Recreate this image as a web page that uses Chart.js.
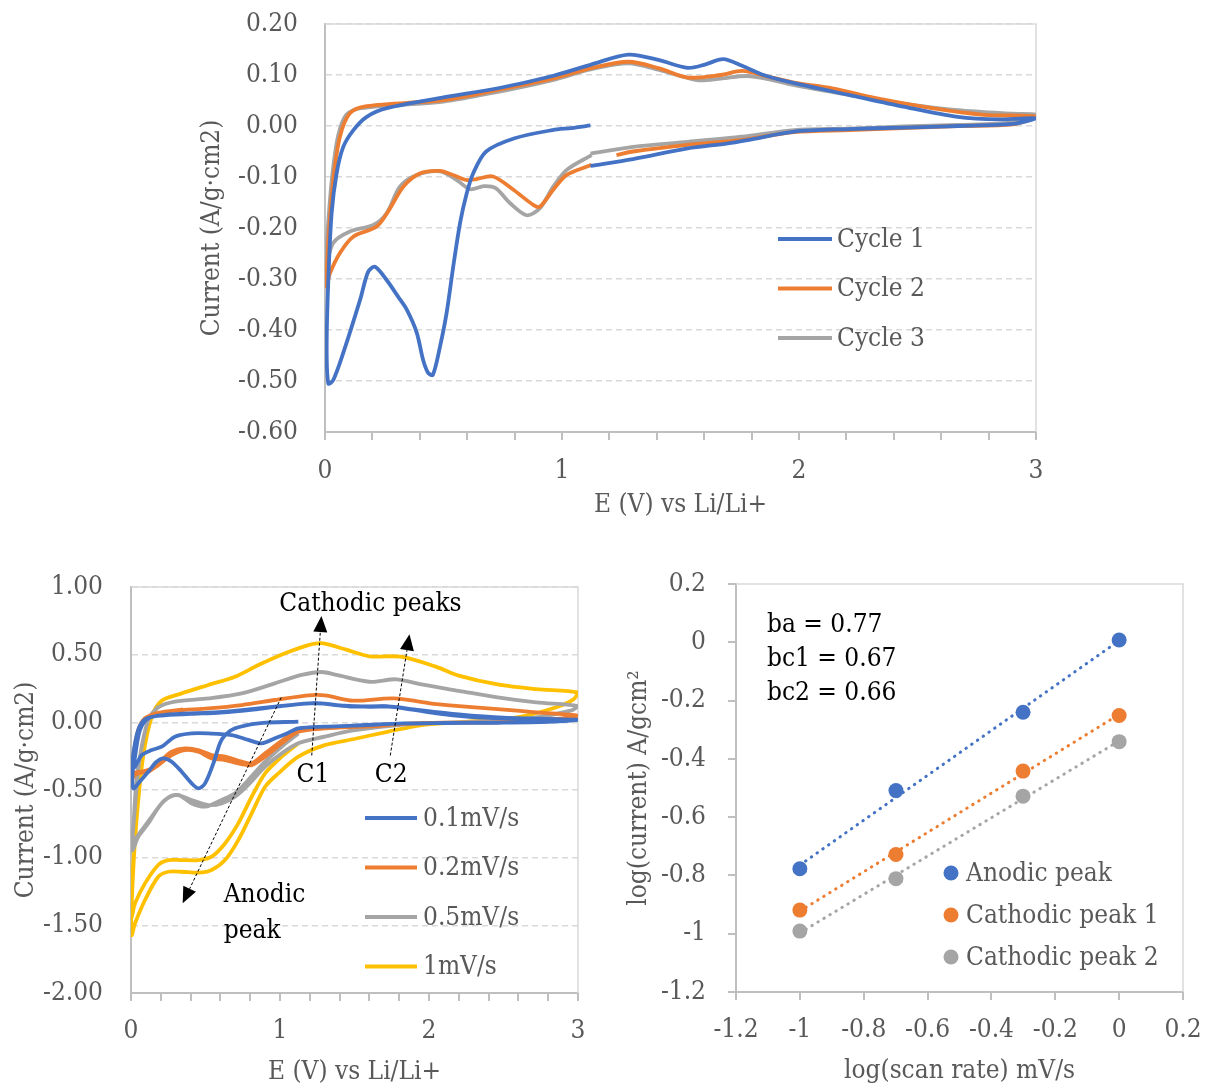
<!DOCTYPE html>
<html>
<head>
<meta charset="utf-8">
<script src="https://cdn.jsdelivr.net/npm/chart.js@4.4.0/dist/chart.umd.min.js"></script>
<style>
  body { margin: 0; background: #fff; width: 1206px; height: 1088px; position: relative; overflow: hidden; }
  canvas { position: absolute; }
  #cycles { left: 0; top: 0; }
  #rates { left: 0; top: 560px; }
  #power { left: 600px; top: 560px; }
</style>
</head>
<body>
<canvas id="cycles" width="1206" height="540"></canvas>
<canvas id="rates" width="600" height="528"></canvas>
<canvas id="power" width="606" height="528"></canvas>
<script>
// ---- top: first three cycles, [E (V), current (A/g·cm2)] along the sweep
const cycleLabels = ['Cycle 1', 'Cycle 2', 'Cycle 3'];
const cycle1 = [
  [1.12,0.001],[1.04,-0.004],[0.96,-0.008],[0.80,-0.024],[0.68,-0.05],[0.625,-0.093],[0.598,-0.132],
  [0.57,-0.19],[0.541,-0.276],[0.513,-0.367],[0.485,-0.433],[0.455,-0.488],[0.435,-0.484],[0.414,-0.459],
  [0.387,-0.405],[0.345,-0.36],[0.309,-0.335],[0.26,-0.302],[0.211,-0.276],[0.182,-0.286],[0.148,-0.341],
  [0.077,-0.445],[0.035,-0.498],[0.014,-0.505],[0.007,-0.433],[0.014,-0.302],[0.028,-0.171],[0.049,-0.093],
  [0.077,-0.041],[0.12,-0.008],[0.176,0.018],[0.26,0.035],[0.50,0.056],[0.73,0.074],[0.96,0.098],
  [1.12,0.12],[1.28,0.14],[1.41,0.129],[1.53,0.114],[1.60,0.12],[1.68,0.131],[1.76,0.118],[1.85,0.10],
  [1.98,0.084],[2.21,0.061],[2.44,0.038],[2.67,0.018],[2.85,0.013],[3.0,0.015],
  [2.90,0.004],[2.67,0.0],[2.44,-0.003],[2.21,-0.006],[1.98,-0.011],[1.80,-0.026],[1.70,-0.034],
  [1.53,-0.044],[1.30,-0.065],[1.12,-0.078]
];
const cycle2 = [
  [1.125,-0.076],[1.02,-0.096],[0.963,-0.125],[0.907,-0.158],[0.88,-0.155],[0.795,-0.125],[0.709,-0.099],
  [0.64,-0.104],[0.598,-0.106],[0.54,-0.096],[0.485,-0.088],[0.40,-0.093],[0.33,-0.119],[0.27,-0.165],
  [0.218,-0.197],[0.119,-0.217],[0.063,-0.249],[0.02,-0.29],[0.007,-0.315],[0.015,-0.22],[0.035,-0.106],
  [0.063,-0.021],[0.105,0.025],[0.176,0.039],[0.50,0.051],[0.73,0.071],[0.96,0.093],[1.12,0.113],
  [1.28,0.126],[1.41,0.113],[1.53,0.095],[1.67,0.10],[1.76,0.108],[1.87,0.097],[1.98,0.085],[2.14,0.074],
  [2.33,0.054],[2.56,0.035],[2.78,0.022],[3.0,0.018],
  [2.90,0.003],[2.67,0.0],[2.21,-0.008],[1.98,-0.012],[1.76,-0.027],[1.53,-0.037],[1.30,-0.05],[1.23,-0.057]
];
const cycle3 = [
  [1.125,-0.057],[1.02,-0.086],[0.963,-0.119],[0.907,-0.161],[0.851,-0.175],[0.78,-0.151],[0.72,-0.122],
  [0.67,-0.118],[0.612,-0.124],[0.556,-0.106],[0.485,-0.089],[0.387,-0.096],[0.316,-0.119],[0.26,-0.171],
  [0.204,-0.194],[0.105,-0.207],[0.035,-0.229],[0.004,-0.272],[0.012,-0.2],[0.03,-0.1],[0.055,-0.02],
  [0.09,0.022],[0.15,0.035],[0.50,0.048],[0.73,0.067],[0.96,0.09],[1.12,0.111],[1.28,0.123],[1.41,0.11],
  [1.57,0.09],[1.67,0.093],[1.78,0.098],[1.87,0.092],[1.98,0.08],[2.21,0.061],[2.44,0.044],[2.67,0.031],
  [2.90,0.024],[3.0,0.022],
  [2.90,0.007],[2.67,0.002],[2.44,-0.001],[2.21,-0.005],[1.98,-0.008],[1.76,-0.021],[1.53,-0.031],
  [1.30,-0.041],[1.12,-0.054]
];

// ---- bottom left: scan rates
const rateLabels = ['0.1mV/s', '0.2mV/s', '0.5mV/s', '1mV/s'];
const rate01 = [
  [1.123,0.005],[0.855,-0.007],[0.698,-0.044],[0.631,-0.094],[0.597,-0.155],[0.553,-0.303],[0.497,-0.451],
  [0.452,-0.488],[0.407,-0.451],[0.34,-0.365],[0.273,-0.291],[0.217,-0.266],[0.172,-0.291],[0.116,-0.365],
  [0.049,-0.451],[0.016,-0.488],[0.01,-0.38],[0.027,-0.254],[0.06,-0.057],[0.116,0.03],[0.228,0.055],
  [0.519,0.071],[0.743,0.091],[0.966,0.116],[1.19,0.14],[1.3,0.138],[1.49,0.116],[1.69,0.12],[1.83,0.104],
  [2.05,0.066],[2.27,0.041],[2.46,0.032],[2.72,0.022],[3.0,0.017],
  [2.8,0.003],[2.46,-0.003],[2.1,-0.005],[1.83,-0.008],[1.49,-0.025],[1.3,-0.032],[1.123,-0.045],
  [1.05,-0.08],[0.966,-0.118],[0.877,-0.155],[0.787,-0.13],[0.676,-0.094],[0.519,-0.082],[0.407,-0.082],
  [0.295,-0.106],[0.206,-0.18],[0.139,-0.205],[0.072,-0.242],[0.027,-0.328],[0.008,-0.34],
  [0.02,-0.2],[0.05,-0.05],[0.1,0.025],[0.2,0.05],[0.4,0.062],[0.6,0.072],[0.82,0.094],[1.04,0.124],
  [1.24,0.142],[1.4,0.125],[1.6,0.115],[1.75,0.116],[1.9,0.095],[2.2,0.058],[2.5,0.034],[3.0,0.02]
];
const rate02 = [
  [1.123,-0.052],[1.034,-0.118],[0.9,-0.229],[0.81,-0.303],[0.743,-0.291],[0.631,-0.254],[0.541,-0.242],
  [0.452,-0.205],[0.362,-0.193],[0.273,-0.217],[0.206,-0.279],[0.139,-0.34],[0.072,-0.365],[0.03,-0.37],
  [0.008,-0.42],[0.016,-0.254],[0.049,-0.057],[0.094,0.03],[0.183,0.066],[0.295,0.086],[0.519,0.103],
  [0.743,0.128],[0.966,0.165],[1.19,0.2],[1.3,0.2],[1.49,0.16],[1.76,0.177],[2.05,0.135],[2.2,0.12],
  [2.46,0.098],[2.72,0.074],[3.0,0.05],
  [2.9,0.03],[2.46,0.0],[2.1,-0.003],[1.83,-0.012],[1.6,-0.03],[1.3,-0.045],[1.123,-0.07],
  [1.011,-0.155],[0.9,-0.254],[0.81,-0.316],[0.743,-0.308],[0.631,-0.279],[0.541,-0.266],[0.452,-0.217],
  [0.362,-0.205],[0.273,-0.242],[0.183,-0.316],[0.116,-0.365],[0.049,-0.377],[0.004,-0.40],
  [0.016,-0.25],[0.049,-0.06],[0.094,0.03],[0.183,0.07],[0.35,0.095]
];
const rate05 = [
  [1.123,-0.082],[1.011,-0.18],[0.9,-0.291],[0.787,-0.426],[0.698,-0.525],[0.608,-0.574],[0.497,-0.623],
  [0.407,-0.599],[0.318,-0.537],[0.228,-0.574],[0.139,-0.697],[0.072,-0.796],[0.016,-0.87],
  [0.02,-0.7],[0.035,-0.45],[0.06,-0.254],[0.116,0.017],[0.183,0.11],[0.295,0.153],[0.519,0.177],
  [0.743,0.214],[0.966,0.288],[1.145,0.35],[1.28,0.372],[1.38,0.35],[1.6,0.30],[1.78,0.318],[1.95,0.28],
  [2.2,0.233],[2.46,0.184],[2.72,0.147],[3.0,0.12],
  [2.95,0.086],[2.72,0.037],[2.46,0.012],[2.16,0.0],[1.83,-0.016],[1.49,-0.06],[1.3,-0.106],[1.123,-0.155],
  [1.011,-0.229],[0.9,-0.328],[0.787,-0.463],[0.698,-0.55],[0.608,-0.599],[0.519,-0.611],[0.407,-0.574],
  [0.295,-0.537],[0.206,-0.599],[0.116,-0.747],[0.049,-0.845],[0.009,-0.944],
  [0.027,-0.623],[0.06,-0.254],[0.116,0.017],[0.183,0.12]
];
const rate1 = [
  [1.123,-0.155],[1.011,-0.254],[0.9,-0.377],[0.81,-0.55],[0.72,-0.747],[0.631,-0.895],[0.541,-0.993],
  [0.452,-1.018],[0.34,-1.018],[0.251,-1.018],[0.183,-1.054],[0.094,-1.19],[0.027,-1.338],[0.004,-1.436],
  [0.005,-1.24],[0.035,-0.746],[0.081,-0.254],[0.139,0.042],[0.206,0.16],[0.34,0.214],[0.519,0.276],
  [0.698,0.337],[0.855,0.423],[1.034,0.51],[1.19,0.571],[1.28,0.585],[1.45,0.535],[1.6,0.488],[1.81,0.485],
  [2.05,0.41],[2.2,0.345],[2.46,0.28],[2.72,0.245],[3.0,0.22],
  [2.97,0.17],[2.85,0.11],[2.59,0.037],[2.2,0.0],[1.95,-0.02],[1.72,-0.07],[1.49,-0.125],[1.3,-0.168],
  [1.123,-0.254],[0.989,-0.377],[0.9,-0.476],[0.81,-0.673],[0.72,-0.87],[0.631,-1.018],[0.541,-1.091],
  [0.452,-1.111],[0.34,-1.104],[0.251,-1.104],[0.183,-1.141],[0.094,-1.313],[0.027,-1.486],[0.004,-1.572],
  [0.006,-1.3],[0.035,-0.75],[0.081,-0.254],[0.139,0.04],[0.2,0.15]
];
// arrows and labels on the scan-rate plot, in data units
const peakArrows = [
  [[1.213,-0.245],[1.278,0.785]],
  [[1.74,-0.245],[1.869,0.65]],
  [[1.008,0.184],[0.347,-1.337]]
];
const peakNotes = [
  ['Cathodic peaks', 1.607, 0.871, 'center'],
  ['C1', 1.221, -0.392, 'center'],
  ['C2', 1.746, -0.392, 'center'],
  ['Anodic', 0.622, -1.275, 'left'],
  ['peak', 0.622, -1.545, 'left']
];

// ---- bottom right: log(peak current) against log(scan rate)
const logRate = [-1, -0.699, -0.301, 0];
const anodicPeak = [-0.777, -0.509, -0.24, 0.008];
const cathodicPeak1 = [-0.919, -0.728, -0.442, -0.251];
const cathodicPeak2 = [-0.991, -0.811, -0.528, -0.341];
const peakLabels = ['Anodic peak', 'Cathodic peak 1', 'Cathodic peak 2'];
const bValues = ['ba = 0.77', 'bc1 = 0.67', 'bc2 = 0.66'];

const BLUE = '#4472c4', ORANGE = '#ed7d31', GRAY = '#a5a5a5', YELLOW = '#ffc000';

// use the condensed serif when it is installed, it is closer to the original face
const probe = document.createElement('canvas').getContext('2d');
probe.font = '40px "DejaVu Serif Condensed", monospace';
const wCond = probe.measureText('Cycle 1 0.20').width;
probe.font = '40px monospace';
const hasCond = Math.abs(wCond - probe.measureText('Cycle 1 0.20').width) > 0.5;
const FONT = hasCond ? "'DejaVu Serif Condensed', serif" : "'DejaVu Serif', serif";
const FS = hasCond ? 26 : 24;
Chart.defaults.font.family = FONT;
Chart.defaults.font.size = FS;
Chart.defaults.color = '#595959';

const toPts = arr => arr.map(([x, y]) => ({x, y}));
const cvLine = (label, pts, color) => ({
  label, data: toPts(pts), showLine: true, borderColor: color, backgroundColor: color,
  borderWidth: 3.8, pointRadius: 0, tension: 0.3, inLegend: true
});

function fit(xs, ys) {
  const n = xs.length;
  const mx = xs.reduce((a, b) => a + b) / n, my = ys.reduce((a, b) => a + b) / n;
  let sxy = 0, sxx = 0;
  xs.forEach((x, i) => { sxy += (x - mx) * (ys[i] - my); sxx += (x - mx) ** 2; });
  const k = sxy / sxx, b = my - k * mx;
  return [{x: xs[0], y: k * xs[0] + b}, {x: xs[n - 1], y: k * xs[n - 1] + b}];
}

// top and right edges of the plot area
const frame = {
  id: 'frame',
  beforeDatasetsDraw(chart) {
    const {ctx, chartArea: a} = chart;
    ctx.save();
    ctx.strokeStyle = '#d9d9d9';
    ctx.lineWidth = 1.5;
    ctx.beginPath();
    ctx.moveTo(a.left, a.top);
    ctx.lineTo(a.right, a.top);
    ctx.lineTo(a.right, a.bottom);
    ctx.stroke();
    ctx.restore();
  }
};

// legend drawn inside the plot area
const boxLegend = {
  id: 'boxLegend',
  afterDraw(chart, args, o) {
    const {ctx, chartArea: a} = chart;
    ctx.save();
    ctx.font = FS + 'px ' + FONT;
    ctx.textBaseline = 'middle';
    let row = 0;
    chart.data.datasets.forEach(ds => {
      if (!ds.inLegend) return;
      const x = a.left + o.x, y = a.top + o.y + row * o.dy;
      if (o.dot) {
        ctx.fillStyle = ds.backgroundColor;
        ctx.beginPath();
        ctx.arc(x, y, 7.5, 0, Math.PI * 2);
        ctx.fill();
      } else {
        ctx.strokeStyle = ds.borderColor;
        ctx.lineWidth = 4;
        ctx.beginPath();
        ctx.moveTo(x, y);
        ctx.lineTo(x + o.len, y);
        ctx.stroke();
      }
      ctx.fillStyle = '#595959';
      ctx.fillText(ds.label, x + o.gap, y + 1);
      row++;
    });
    ctx.restore();
  }
};

const notes = {
  id: 'notes',
  afterDraw(chart, args, o) {
    const {ctx, scales: {x, y}} = chart;
    ctx.save();
    (o.arrows || []).forEach(([p, q]) => {
      const x1 = x.getPixelForValue(p[0]), y1 = y.getPixelForValue(p[1]);
      const x2 = x.getPixelForValue(q[0]), y2 = y.getPixelForValue(q[1]);
      const ang = Math.atan2(y2 - y1, x2 - x1), len = 16, half = 7;
      const bx = x2 - len * Math.cos(ang), by = y2 - len * Math.sin(ang);
      ctx.strokeStyle = '#000';
      ctx.lineWidth = 1;
      ctx.setLineDash([3, 2]);
      ctx.beginPath();
      ctx.moveTo(x1, y1);
      ctx.lineTo(bx, by);
      ctx.stroke();
      ctx.setLineDash([]);
      ctx.fillStyle = '#000';
      ctx.beginPath();
      ctx.moveTo(x2, y2);
      ctx.lineTo(bx + half * Math.sin(ang), by - half * Math.cos(ang));
      ctx.lineTo(bx - half * Math.sin(ang), by + half * Math.cos(ang));
      ctx.closePath();
      ctx.fill();
    });
    ctx.font = FS + 'px ' + FONT;
    ctx.fillStyle = '#000';
    ctx.textBaseline = 'middle';
    (o.texts || []).forEach(([t, tx, ty, align]) => {
      ctx.textAlign = align;
      ctx.fillText(t, x.getPixelForValue(tx), y.getPixelForValue(ty));
    });
    ctx.restore();
  }
};

// fixed axis box sizes, no extra room reserved for the end labels
const fixH = h => s => { s.height = h; s.paddingLeft = 0; s.paddingRight = 0; };
const fixW = w => s => { s.width = w; s.paddingTop = 0; s.paddingBottom = 0; };

function eAxis(height, pad) {
  return {
    type: 'linear', min: 0, max: 3,
    ticks: {
      stepSize: 0.2, padding: pad, autoSkip: false, maxRotation: 0,
      callback: v => Math.abs(v - Math.round(v)) < 1e-6 ? String(Math.round(v)) : ''
    },
    grid: { drawOnChartArea: false, drawTicks: true, tickLength: 8, color: '#bfbfbf', lineWidth: 2 },
    border: { display: true, color: '#bfbfbf', width: 2 },
    title: { display: true, text: 'E (V) vs Li/Li+', padding: 0 },
    afterFit: fixH(height)
  };
}
function iAxis(min, max, step, width, pad) {
  return {
    type: 'linear', min, max,
    ticks: { stepSize: step, padding: pad, callback: v => (Math.abs(v) < 1e-9 ? 0 : v).toFixed(2) },
    grid: { color: '#d9d9d9', lineWidth: 1.5, drawTicks: false },
    border: { display: true, color: '#bfbfbf', width: 2, dash: [6, 4] },
    title: { display: true, text: 'Current (A/g·cm2)', padding: 0 },
    afterFit: fixW(width)
  };
}
const base = { responsive: false, animation: false, devicePixelRatio: 1 };

new Chart(document.getElementById('cycles'), {
  type: 'scatter',
  data: { datasets: [
    cvLine(cycleLabels[0], cycle1, BLUE),
    cvLine(cycleLabels[1], cycle2, ORANGE),
    cvLine(cycleLabels[2], cycle3, GRAY)
  ]},
  options: Object.assign({}, base, {
    layout: { padding: { left: 197, right: 170, top: 24, bottom: 19 } },
    scales: { x: eAxis(89, 16), y: iAxis(-0.6, 0.2, 0.1, 128, 27) },
    plugins: {
      legend: { display: false }, tooltip: { enabled: false },
      boxLegend: { x: 453, y: 215, dy: 49.5, len: 54, gap: 59 }
    }
  }),
  plugins: [frame, boxLegend]
});

new Chart(document.getElementById('rates'), {
  type: 'scatter',
  data: { datasets: [
    cvLine(rateLabels[0], rate01, BLUE),
    cvLine(rateLabels[1], rate02, ORANGE),
    cvLine(rateLabels[2], rate05, GRAY),
    cvLine(rateLabels[3], rate1, YELLOW)
  ]},
  options: Object.assign({}, base, {
    layout: { padding: { left: 11, right: 22, top: 27, bottom: 0 } },
    scales: { x: eAxis(95, 15), y: iAxis(-2, 1, 0.5, 120, 28) },
    plugins: {
      legend: { display: false }, tooltip: { enabled: false },
      boxLegend: { x: 234, y: 231, dy: 49.5, len: 52, gap: 58 },
      notes: { arrows: peakArrows, texts: peakNotes }
    }
  }),
  plugins: [frame, boxLegend, notes]
});

const dotSet = (label, ys, color) => ({
  label, data: logRate.map((x, i) => ({x, y: ys[i]})), backgroundColor: color, borderColor: color,
  pointRadius: 7.5, borderWidth: 0, order: 0, inLegend: true
});
const trendSet = (ys, color) => ({
  data: fit(logRate, ys), showLine: true, borderColor: color, borderWidth: 3,
  borderDash: [0.5, 6.5], borderCapStyle: 'round', pointRadius: 0, order: 1
});
const logTick = v => String(+v.toFixed(1));

new Chart(document.getElementById('power'), {
  type: 'scatter',
  data: { datasets: [
    dotSet(peakLabels[0], anodicPeak, BLUE),
    dotSet(peakLabels[1], cathodicPeak1, ORANGE),
    dotSet(peakLabels[2], cathodicPeak2, GRAY),
    trendSet(anodicPeak, BLUE),
    trendSet(cathodicPeak1, ORANGE),
    trendSet(cathodicPeak2, GRAY)
  ]},
  options: Object.assign({}, base, {
    layout: { padding: { left: 24, right: 23, top: 24, bottom: 1 } },
    scales: {
      x: {
        type: 'linear', min: -1.2, max: 0.2,
        ticks: { stepSize: 0.2, padding: 15, autoSkip: false, maxRotation: 0, callback: logTick },
        grid: { drawOnChartArea: false, drawTicks: true, tickLength: 8, color: '#bfbfbf', lineWidth: 2 },
        border: { display: true, color: '#bfbfbf', width: 2 },
        title: { display: true, text: 'log(scan rate) mV/s', padding: 0 },
        afterFit: fixH(95)
      },
      y: {
        type: 'linear', min: -1.2, max: 0.2,
        ticks: { stepSize: 0.2, padding: 22, callback: logTick },
        grid: { drawOnChartArea: false, drawTicks: true, tickLength: 8, color: '#bfbfbf', lineWidth: 2 },
        border: { display: true, color: '#bfbfbf', width: 2 },
        title: { display: true, text: 'log(current) A/gcm²', padding: 0 },
        afterFit: fixW(112)
      }
    },
    plugins: {
      legend: { display: false }, tooltip: { enabled: false },
      boxLegend: { x: 215, y: 289, dy: 42, dot: true, gap: 15 },
      notes: { texts: bValues.map((t, i) => [t, -1.103, 0.059 - i * 0.1167, 'left']) }
    }
  }),
  plugins: [frame, boxLegend, notes]
});
</script>
</body>
</html>
